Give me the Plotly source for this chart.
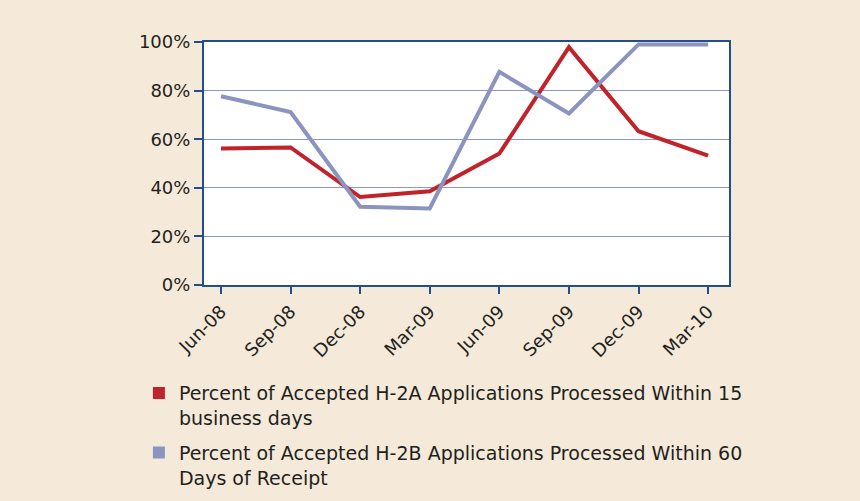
import plotly.graph_objects as go

quarters = ["Jun-08", "Sep-08", "Dec-08", "Mar-09", "Jun-09", "Sep-09", "Dec-09", "Mar-10"]
h2a_pct = [56.2, 56.6, 36.2, 38.6, 54.1, 97.9, 63.3, 53.2]
h2b_pct = [77.7, 71.2, 32.2, 31.5, 87.7, 70.6, 99.0, 99.0]
y_ticks = [0, 20, 40, 60, 80, 100]
y_tick_labels = ["0%", "20%", "40%", "60%", "80%", "100%"]

name_a = "Percent of Accepted H-2A Applications Processed Within 15<br>business days"
name_b = "Percent of Accepted H-2B Applications Processed Within 60<br>Days of Receipt"

RED = "#c1232b"
BLUE = "#8b93bf"
AXIS = "#1f4f8e"
GRID = "#8e97c8"
BG = "#f5ead9"
TXT = "#231f20"
FONT = "'DejaVu Sans', Verdana, sans-serif"

x_idx = list(range(len(quarters)))

fig = go.Figure()
fig.add_trace(go.Scatter(x=x_idx, y=h2a_pct, mode="lines", line=dict(color=RED, width=4),
                         showlegend=False))
fig.add_trace(go.Scatter(x=x_idx, y=h2b_pct, mode="lines", line=dict(color=BLUE, width=4),
                         showlegend=False))
fig.add_trace(go.Scatter(x=[None], y=[None], mode="markers", name=name_a, legendgroup="a",
                         marker=dict(symbol="square", color=RED, size=12)))
fig.add_trace(go.Scatter(x=[None], y=[None], mode="markers", name=name_b, legendgroup="b",
                         marker=dict(symbol="square", color=BLUE, size=12)))

fig.update_layout(
    width=860, height=501,
    margin=dict(l=204, r=131, t=42, b=216, pad=0, autoexpand=False),
    paper_bgcolor=BG, plot_bgcolor="white",
    font=dict(family=FONT, size=18, color=TXT),
    showlegend=True,
    legend=dict(x=-0.124, xanchor="left", y=-0.367, yanchor="top",
                bgcolor="rgba(0,0,0,0)", traceorder="grouped", tracegroupgap=7,
                itemwidth=30, valign="top",
                font=dict(family=FONT, size=19, color=TXT)),
)
fig.update_xaxes(
    range=[-0.244, 7.30], tickmode="array", tickvals=x_idx, ticktext=quarters,
    tickangle=-45, showgrid=False, zeroline=False,
    showline=True, linecolor=AXIS, linewidth=2, mirror=True,
    ticks="outside", ticklen=7, tickwidth=1.5, tickcolor=AXIS,
    tickfont=dict(family=FONT, size=18, color=TXT),
)
fig.update_yaxes(
    range=[0, 100], tickmode="array", tickvals=y_ticks, ticktext=y_tick_labels,
    showgrid=True, gridcolor=GRID, gridwidth=1, zeroline=False,
    showline=True, linecolor=AXIS, linewidth=2, mirror=True,
    ticks="outside", ticklen=8, tickwidth=1.5, tickcolor=AXIS,
    tickfont=dict(family=FONT, size=18, color=TXT),
)

fig.write_html("out.html", config={"displayModeBar": False},
               post_script="document.body.style.margin='0';document.body.style.background='%s';" % BG)
